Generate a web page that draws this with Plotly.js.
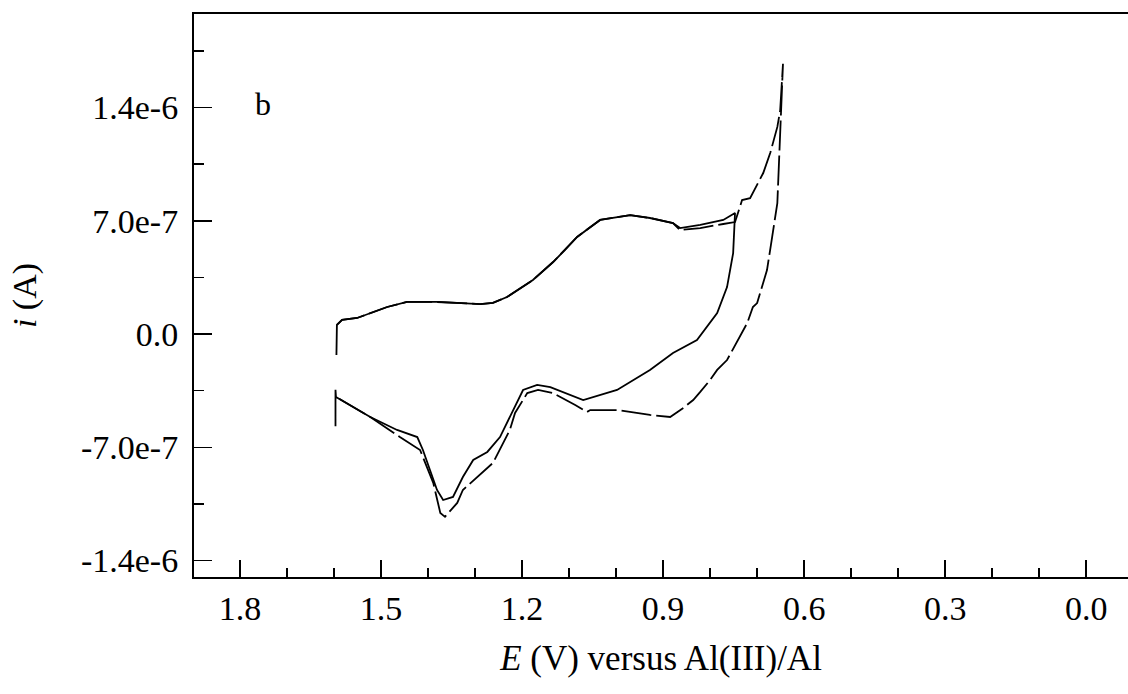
<!DOCTYPE html>
<html>
<head>
<meta charset="utf-8">
<script src="https://cdn.plot.ly/plotly-3.0.1.min.js"></script>
<style>html,body{margin:0;padding:0;background:#fff;}#chart{width:1128px;height:694px;}</style>
</head>
<body>
<div id="chart"></div>
<script>
// Potential E (V vs Al(III)/Al) and current i in units of 1e-7 A
// Solid scan
const solidE = [1.595, 1.594, 1.583, 1.551, 1.487, 1.445, 1.381, 1.289, 1.262, 1.232, 1.177, 1.134, 1.109, 1.083, 1.034, 0.970, 0.928, 0.879, 0.864, 0.821, 0.772, 0.747,
  0.751, 0.764, 0.785, 0.828, 0.879, 0.928, 0.998, 1.070, 1.140, 1.168, 1.198, 1.219, 1.247, 1.274, 1.304, 1.326, 1.347, 1.368, 1.381, 1.396, 1.411, 1.423, 1.466, 1.523, 1.596, 1.597, 1.597];
const solidI = [-1.30, 0.56, 0.87, 0.99, 1.67, 1.98, 1.98, 1.85, 1.92, 2.29, 3.34, 4.45, 5.19, 6.00, 7.05, 7.35, 7.17, 6.86, 6.55, 6.74, 7.05, 7.48,
  5.00, 2.90, 1.30, -0.37, -1.17, -2.22, -3.46, -4.08, -3.28, -3.15, -3.46, -4.70, -6.37, -7.29, -7.79, -8.84, -10.07, -10.26, -9.64, -8.41, -7.17, -6.37, -5.93, -5.13, -3.89, -3.45, -5.70];
// Dashed scan
const dashedE = [1.594, 1.583, 1.551, 1.487, 1.445, 1.381, 1.289, 1.262, 1.232, 1.177, 1.134, 1.109, 1.083, 1.034, 0.970, 0.928, 0.879, 0.864, 0.821, 0.772, 0.747, 0.732, 0.715, 0.687, 0.672, 0.657, 0.651, 0.645,
  0.653, 0.657, 0.668, 0.679, 0.700, 0.709, 0.721, 0.764, 0.785, 0.800, 0.821, 0.836, 0.857, 0.885, 0.928, 0.998, 1.055, 1.062, 1.087, 1.134, 1.166, 1.189, 1.215, 1.226, 1.262, 1.283, 1.326, 1.338, 1.364, 1.374, 1.389, 1.417, 1.460, 1.523, 1.596];
const dashedI = [0.56, 0.87, 0.99, 1.67, 1.98, 1.98, 1.85, 1.92, 2.29, 3.34, 4.45, 5.19, 6.00, 7.05, 7.35, 7.17, 6.86, 6.43, 6.55, 6.80, 6.92, 8.28, 8.40, 9.95, 11.2, 12.8, 13.8, 16.7,
  11.55, 8.09, 6.00, 3.95, 1.91, 1.67, 0.68, -1.61, -2.22, -2.84, -3.58, -4.08, -4.57, -5.13, -5.00, -4.70, -4.70, -4.82, -4.39, -3.65, -3.46, -3.65, -4.88, -5.93, -7.97, -8.53, -9.64, -10.44, -11.30, -11.06, -9.20, -7.17, -6.37, -5.13, -3.89];

const yTickVals = [-1.4e-6, -7.0e-7, 0, 7.0e-7, 1.4e-6];
const yTickText = ['-1.4e-6', '-7.0e-7', '0.0', '7.0e-7', '1.4e-6'];
const yMinorVals = [-1.05e-6, -3.5e-7, 3.5e-7, 1.05e-6, 1.75e-6];

const scale = 1e-7;
const serif = 'Liberation Serif, Times New Roman, serif';

const traces = [
  {x: dashedE, y: dashedI.map(v => v * scale), mode: 'lines', line: {color: '#000', width: 1.8, dash: '30px,5px'}, hoverinfo: 'skip'},
  {x: solidE, y: solidI.map(v => v * scale), mode: 'lines', line: {color: '#000', width: 1.8}, hoverinfo: 'skip'}
];

const layout = {
  width: 1128, height: 694,
  margin: {l: 194, r: 0, t: 14, b: 117},
  paper_bgcolor: '#fff', plot_bgcolor: '#fff',
  showlegend: false,
  font: {family: serif, color: '#000', size: 34},
  xaxis: {
    range: [1.898, -0.089],
    showline: true, linecolor: '#000', linewidth: 2, mirror: true,
    showgrid: false, zeroline: false,
    ticks: 'inside', ticklen: 17, tickwidth: 1.5, tickcolor: '#000',
    tickmode: 'linear', tick0: 0, dtick: 0.3, tickformat: '.1f',
    minor: {tickmode: 'linear', tick0: 0, dtick: 0.1, ticks: 'inside', ticklen: 9, tickwidth: 1.5, tickcolor: '#000', showgrid: false},
    tickfont: {family: serif, size: 34, color: '#000'},
    title: {text: '<i>E</i> (V) versus Al(III)/Al', font: {family: serif, size: 35, color: '#000'}, standoff: 20}
  },
  yaxis: {
    range: [-1.502e-6, 1.978e-6],
    showline: true, linecolor: '#000', linewidth: 2, mirror: false,
    showgrid: false, zeroline: false,
    ticks: 'inside', ticklen: 18, tickwidth: 1.5, tickcolor: '#000',
    tickmode: 'array', tickvals: yTickVals, ticktext: yTickText,
    ticklabelstandoff: 7,
    minor: {tickmode: 'array', tickvals: yMinorVals, ticks: 'inside', ticklen: 10, tickwidth: 1.5, tickcolor: '#000', showgrid: false},
    tickfont: {family: serif, size: 34, color: '#000'},
    title: {text: '<i>i</i> (A)', font: {family: serif, size: 34, color: '#000'}, standoff: 34}
  },
  annotations: [
    {text: 'b', xref: 'paper', yref: 'paper', x: 0.0739, y: 0.840, xanchor: 'center', yanchor: 'middle', showarrow: false, font: {family: serif, size: 32, color: '#000'}}
  ]
};

Plotly.newPlot('chart', traces, layout, {displayModeBar: false, staticPlot: true});
</script>
</body>
</html>
